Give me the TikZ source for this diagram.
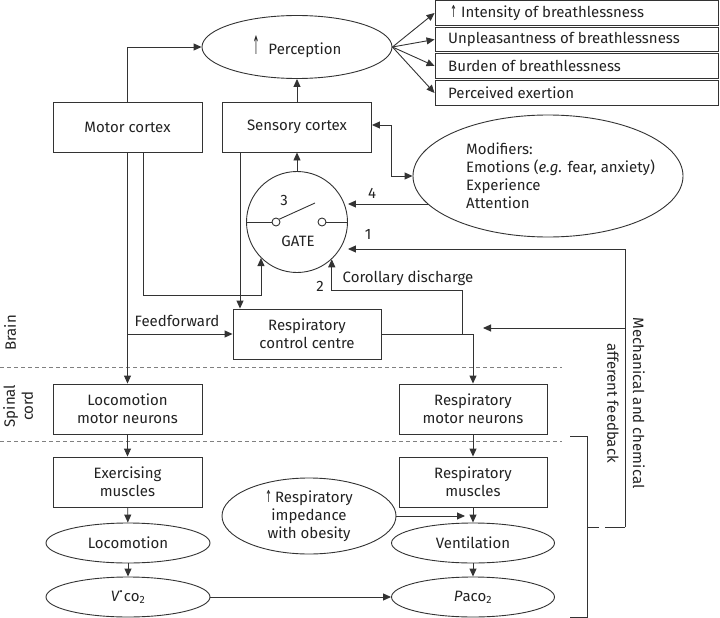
\documentclass[tikz,border=0pt]{standalone}
\usepackage{fontspec}
\setmainfont{Fira Sans}
\newfontfamily\symfont{DejaVu Sans}
\usetikzlibrary{shapes.geometric,arrows.meta,calc}
\definecolor{ln}{HTML}{333333}
\definecolor{tx}{HTML}{222222}
\newcommand{\uparr}[1]{{\symfont\scalebox{0.55}[#1]{↑}}}
\begin{document}
\begin{tikzpicture}[x=1pt,y=-1pt,
  every node/.style={text=tx, font=\fontsize{15}{18}\selectfont},
  line/.style={draw=ln, line width=0.9pt},
  arr/.style={line, -{Triangle[length=8pt,width=7pt]}},
  darr/.style={line, {Triangle[length=8pt,width=7pt]}-{Triangle[length=8pt,width=7pt]}},
  rbox/.style={draw=ln, line width=0.9pt, minimum width=149pt, minimum height=50pt, align=center, inner sep=0pt},
  oval/.style={ellipse, draw=ln, line width=0.9pt, inner sep=0pt, align=center},
  outbox/.style={draw=ln, line width=0.9pt, minimum width=283pt, minimum height=24.5pt, inner sep=0pt},
  outtext/.style={anchor=west, inner sep=0pt},
  sepline/.style={draw=gray, line width=0.8pt, dash pattern=on 4pt off 3pt},
  dot/.style={circle, draw=ln, line width=0.9pt, minimum size=8pt, inner sep=0pt, fill=white}
]
\useasboundingbox (0,0) rectangle (720,618);

% top
\node[oval, minimum width=190pt, minimum height=63pt] (perc) at (297,47) {\uparr{1.7}\hspace{9pt}Perception};
\node[outbox] (o1) at (576.5,13) {};
\node[outbox] (o2) at (576.5,39.5) {};
\node[outbox] (o3) at (576.5,66) {};
\node[outbox] (o4) at (576.5,93) {};
\node[outtext] (t1) at (450,13) {\uparr{1.1}\hspace{4pt}Intensity of breathlessness};
\node[outtext] (t2) at (448,39.5) {Unpleasantness of breathlessness};
\node[outtext] (t3) at (448,66) {Burden of breathlessness};
\node[outtext] (t4) at (448,93) {Perceived exertion};

\node[rbox] (motor) at (127.5,127) {Motor cortex};
\node[rbox] (sens) at (297,127) {Sensory cortex};

\node[oval, minimum width=270pt, minimum height=122pt] (mod) at (548,176) {};
\node[anchor=west, align=left, inner sep=0pt] (modtext) at (466,176) {Modifiers:\\Emotions (\textit{e.g.} fear, anxiety)\\Experience\\Attention};

% gate
\node[circle, draw=ln, line width=0.9pt, minimum size=101pt, inner sep=0pt] (gate) at (297,222) {};
\node[dot] (c1) at (276,222) {};
\node[dot] (c2) at (322,222) {};
\draw[line] (gate.west) -- (c1.west);
\draw[line] (c2.east) -- (gate.east);
\coordinate (sw) at (315,203);
\draw[line] (c1.40) -- (sw);
\node (n3) at (284,200) {3};
\node (gatel) at (298,241) {GATE};

\node[rbox, minimum width=148pt] (rcc) at (307,334) {Respiratory\\control centre};

% spinal / muscles
\node[rbox] (lmn) at (127.5,409) {Locomotion\\motor neurons};
\node[rbox, minimum width=148pt] (rmn) at (473,409) {Respiratory\\motor neurons};
\node[rbox] (exm) at (127.5,482) {Exercising\\muscles};
\node[rbox, minimum width=148pt] (rm) at (473,482) {Respiratory\\muscles};
\node[oval, minimum width=164pt, minimum height=40pt] (loco) at (128,543) {Locomotion};
\node[oval, minimum width=163pt, minimum height=40pt] (vent) at (473,543) {Ventilation};
\node[oval, minimum width=164pt, minimum height=40pt] (vco) at (128,597) {\textit{V}\kern-0.5pt\raisebox{8.5pt}{.}\kern1pt co\textsubscript{2}};
\node[oval, minimum width=163pt, minimum height=40pt] (pa) at (473,597) {\textit{P}aco\textsubscript{2}};
\node[oval, minimum width=174pt, minimum height=76pt] (imp) at (309,516) {\uparr{1.1}\hspace{3pt}Respiratory\\impedance\\with obesity};

% labels
\node[rotate=90] (brain) at (10,333) {Brain};
\node[rotate=90, align=center] (spinal) at (18,406) {Spinal\\cord};
\node[rotate=-90] (mech) at (639,403) {Mechanical and chemical};
\node[rotate=-90] (aff) at (613,403) {afferent feedback};
\node (n4) at (372,193) {4};
\node (n1) at (368,234) {1};
\node (n2) at (320,286) {2};
\node (cdl) at (408,278) {Corollary discharge};
\node (ff) at (177,321) {Feedforward};

% separators
\draw[sepline] (0,367) -- (562,367);
\draw[sepline] (0,441) -- (562,441);

% connectors top
\draw[arr] (motor.north) |- (perc.west);
\draw[arr] (sens.north) -- (perc.south);
\foreach \o in {o1,o2,o3,o4} \draw[arr] (perc.east) -- (\o.west);
\draw[darr] ([yshift=2pt]sens.east) -- ++(19,0) |- (mod.west);
\coordinate (m4) at (428,204);
\draw[arr] (m4) -- (gate.east |- m4);
\draw[arr] (gate.north) -- (sens.south);

% feedback loop
\coordinate (fbtop) at (625,249);
\coordinate (fbmid) at (625,328);
\coordinate (fbend) at (483,328);
\coordinate (fbbot) at (625,527);
\coordinate (fbgapa) at (605,527);
\coordinate (fbgapb) at (599,527);
\coordinate (brk) at (587,527);
\draw[arr] (fbbot) -- (fbtop) -- (gate.east |- fbtop);
\draw[arr] (fbmid) -- (fbend);
\draw[line] (fbbot) -- (fbgapa);
\draw[line] (fbgapb) -- (brk);
\coordinate (bt1) at (570,436);
\coordinate (bt2) at (587,436);
\coordinate (bb2) at (587,617);
\coordinate (bb1) at (570,617);
\draw[line] (bt1) -- (bt2) -- (bb2) -- (bb1);

% motor cortex descending
\draw[arr] (motor.south) -- (lmn.north);
\draw[arr] ([xshift=16pt]motor.south) -- ++(0,143) -| (gate.225);
\draw[arr] ([xshift=-57pt]sens.south) coordinate (sl) -- (sl |- rcc.north);
\draw[arr] (motor.south |- rcc.west) -- (rcc.west);
\draw[arr] (rcc.east) -| (rmn.north);
\coordinate (cd) at (462,334);
\draw[arr] (cd) -- (462,290) -| (gate.313);

% bottom
\draw[arr] (lmn) -- (exm);
\draw[arr] (exm) -- (loco);
\draw[arr] (loco) -- (vco);
\draw[arr] (vco) -- (pa);
\draw[arr] (rmn) -- (rm);
\draw[arr] (rm) -- (vent);
\draw[arr] (vent) -- (pa);
\coordinate (impend) at (465,516);
\draw[arr] (imp.east) -- (impend);
\end{tikzpicture}
\end{document}
